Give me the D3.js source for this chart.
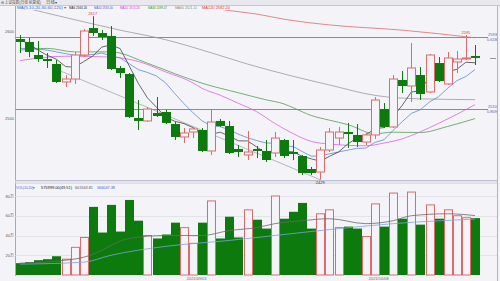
<!DOCTYPE html>
<html lang="zh">
<head>
<meta charset="utf-8">
<script src="https://cdn.jsdelivr.net/npm/d3@7"></script>
<style>
  body { margin: 0; background: #f4f4f8; }
  svg { display: block; font-family: "Liberation Sans", "Noto Sans CJK SC", sans-serif; }
</style>
</head>
<body>
<div id="chart"></div>
<script>
// daily candles, oldest first (price points)
var opens  = [2590.8,2587.4,2572.4,2567.8,2562.1,2541.4,2544.8,2572.4,2603.4,2597.7,2594.3,2557.5,2550.6,2500.0,2496.6,2505.7,2506.9,2493.1,2478.2,2483.9,2486.2,2462.1,2496.6,2490.8,2464.4,2457.5,2464.4,2462.1,2459.8,2474.7,2460.9,2456.3,2441.4,2437.9,2463.2,2477.0,2483.9,2480.5,2472.4,2480.5,2510.3,2489.7,2543.7,2536.8,2549.4,2529.9,2563.2,2539.1,2564.4,2567.8,2571.3];
var highs  = [2595.4,2592.0,2588.5,2574.7,2566.7,2549.4,2575.9,2602.3,2617.0,2601.1,2605.7,2559.8,2551.7,2520.7,2512.6,2524.1,2509.2,2495.4,2488.5,2489.7,2488.5,2509.2,2498.9,2496.6,2469.0,2485.1,2467.8,2474.7,2483.9,2475.9,2474.7,2457.5,2443.7,2466.7,2488.5,2489.7,2494.3,2493.1,2482.8,2524.1,2517.2,2549.4,2554.0,2586.2,2558.6,2573.6,2570.1,2575.9,2577.0,2595.4,2583.9];
var lows   = [2574.7,2570.0,2564.4,2557.5,2540.2,2535.6,2539.0,2570.0,2594.3,2589.7,2555.2,2546.0,2500.0,2486.2,2495.4,2501.1,2493.1,2474.7,2471.3,2477.0,2460.9,2457.5,2489.7,2458.6,2455.2,2451.7,2454.0,2449.4,2455.2,2454.0,2451.7,2434.5,2434.5,2429.0,2460.9,2469.0,2465.5,2466.7,2469.0,2475.9,2488.5,2488.5,2528.7,2518.4,2520.7,2528.7,2541.4,2537.9,2551.7,2566.7,2560.9];
var closes = [2587.4,2575.9,2567.8,2565.5,2541.4,2544.8,2572.4,2600.0,2597.7,2593.1,2556.3,2551.7,2501.1,2496.6,2510.3,2502.3,2494.3,2478.2,2482.8,2487.4,2462.1,2495.4,2490.8,2459.8,2460.9,2460.9,2462.1,2451.7,2477.0,2456.3,2458.6,2436.8,2436.8,2463.2,2483.9,2483.9,2481.6,2472.4,2480.5,2520.7,2489.7,2544.8,2536.8,2557.5,2527.6,2572.4,2542.5,2569.0,2567.8,2569.0,2569.0];
// volume, 万手
var volumes = [12,13,15,16,19,16,28,38,69,43,71,44,76,55,40,37,41,53,48,32,53,75,37,59,38,66,56,47,80,57,64,73,47,62,66,48,49,47,39,72,49,83,57,84,51,71,57,66,60,58,57.6];

// moving averages
var ma5 = [2590,2585,2578,2572,2567.6,2559.1,2558.4,2564.8,2571.3,2581.6,2583.9,2579.8,2560,2539.8,2523.2,2512.4,2500.9,2496.3,2493.6,2489,2481,2481.2,2483.7,2479.1,2473.8,2473.6,2466.9,2459.1,2462.5,2461.6,2461.1,2456.1,2453.1,2450.3,2455.9,2460.9,2469.9,2477,2480.5,2487.8,2489,2501.6,2514.5,2529.9,2531.3,2547.8,2547.4,2553.8,2555.9,2564.1,2563.5];
var ma10 = [2580,2580,2579,2578,2576,2574,2572,2572,2573,2574.6,2571.5,2569.1,2562.4,2555.6,2552.4,2548.2,2540.4,2528.2,2516.7,2506.1,2496.7,2491.1,2490,2486.4,2481.4,2477.3,2474.1,2471.4,2470.8,2467.7,2467.4,2461.5,2456.1,2456.4,2458.8,2461,2463,2465.1,2465.4,2471.9,2475,2485.8,2495.8,2505.2,2509.6,2518.4,2524.5,2534.2,2542.9,2547.7,2555.7];
var ma20 = [[0,2566],[5,2571],[10,2570],[13,2565],[16,2553],[19,2540.4],[20,2534.1],[22,2526.2],[24,2516.9],[26,2507.3],[28,2493.8],[30,2482.1],[32,2473.1],[34,2470.1],[36,2468.6],[38,2468.1],[40,2471.2],[42,2476],[44,2484.2],[46,2493.8],[48,2504.2],[50,2515.3]];
var ma30 = [[0,2578],[3,2580],[6,2576],[10,2576],[14,2563],[17,2551],[20,2540],[24,2529],[27,2521],[29,2516.2],[30,2511.9],[32,2502.9],[34,2497.5],[36,2492.5],[39,2481.9],[41,2483.7],[44,2483.3],[47,2490.3],[50,2499.3]];
var ma60 = [[0,2628],[6,2613],[11,2601],[16,2590],[21,2575],[25,2562],[30,2548],[34,2538],[39,2526],[44,2522],[50,2521.1]];
var ma120 = [[18,2632],[23,2623.5],[26,2619.5],[29,2613.6],[34,2607],[42,2601],[50,2592.2]];
var volMaA = [[0,12],[5,15],[7,18],[9,25],[10,30],[12,37],[16,40],[20,40],[23,45],[26,48],[28,52],[31,55],[34,57],[38,52],[41,55],[43,60],[47,62],[50,60.2]];
var volMaB = [[0,11],[7,13],[10,20],[16,29],[23,35],[28,40],[34,46],[41,52],[50,56.6]];

var maNames  = ["MA5","MA10","MA20","MA30","MA60","MA120"];
var maValues = ["2563.26","2555.40","2515.26","2499.47","2521.11","2592.20"];
var volNames = ["575999.00(49.51)","601563.81","566047.38"];

var priceTicks = [2600, 2500];
var volTicks = [20, 40, 60, 80];
var levelPrices = [2593, 2510];
var levelRatios = ["0.618", "0.809"];
var trendFrom = [4, 2556];
var trendTo = [33, 2429];
var dateIdx = [18, 38];
var dateLabels = ["2021/09/01", "2021/10/08"];

var width = 500, height = 281;
var left = 15.5, right = 488;
var mainTop = 10, mainBottom = 180;
var volTop = 190, volBottom = 275;

var up = "#e06a6a", down = "#0c7a0c", bg = "#f4f4f8";
var maColors = ["#444444","#5f86d8","#e060e0","#4f9f4f","#9a9a9a","#e06a6a"];
var legendColors = ["#222222","#3a62d0","#d838d8","#2e962e","#888888","#e03434"];

var svg = d3.select("#chart").append("svg")
    .attr("width", width).attr("height", height);

// squeeze a text into a given width, like the tiny terminal font
function fitText(sel, w) {
    sel.attr("textLength", w).attr("lengthAdjust", "spacingAndGlyphs");
    return sel;
}

// scales
var x = d3.scaleLinear().domain([0, closes.length - 1]).range([20, 475]);
var y = d3.scaleLinear().domain([2500, 2600]).range([118, 31]);
var yv = d3.scaleLinear().domain([0, 80]).range([volBottom, 196]);

// top strip
svg.append("rect").attr("x", 0).attr("y", 0).attr("width", width).attr("height", 5)
    .attr("fill", "#e8e8ee");
svg.append("line").attr("x1", 0).attr("x2", width).attr("y1", 5.5).attr("y2", 5.5)
    .attr("stroke", "#c8c8d4");
fitText(svg.append("text").attr("x", 1).attr("y", 4).attr("font-size", 4).attr("fill", "#555")
    .text("⊟ 上证指数(日线 前复权)"), 40);
fitText(svg.append("text").attr("x", 46).attr("y", 4).attr("font-size", 4).attr("fill", "#555")
    .text("日线▾"), 11);

// frame
svg.append("line").attr("x1", left).attr("x2", left).attr("y1", 6).attr("y2", volBottom + 1)
    .attr("stroke", "#a8a8bc");
svg.append("line").attr("x1", 497.5).attr("x2", 497.5).attr("y1", 6).attr("y2", height)
    .attr("stroke", "#b4b4c4");
svg.append("rect").attr("x", left).attr("y", mainBottom).attr("width", 497 - left).attr("height", 3)
    .attr("fill", "#e4e4ec");
svg.append("line").attr("x1", left).attr("x2", 497).attr("y1", mainBottom + 0.5).attr("y2", mainBottom + 0.5)
    .attr("stroke", "#c0c0d0");
svg.append("line").attr("x1", left).attr("x2", 497).attr("y1", mainBottom + 3.5).attr("y2", mainBottom + 3.5)
    .attr("stroke", "#c8c8d6").attr("stroke-dasharray", "1,1");

// MA legend
var lg = svg.append("g").attr("font-size", 4.4);
fitText(lg.append("text").attr("x", 17).attr("y", 8.8).attr("fill", "#3a62d0")
    .text("MA(5,10,20,30,60,120) ▾"), 49);
var legendX = [69, 94, 120, 148, 175, 202];
var legendW = [18, 19, 20, 19, 22, 28];
maNames.forEach(function(n, i) {
    fitText(lg.append("text").attr("x", legendX[i]).attr("y", 8.8).attr("fill", legendColors[i])
        .text(n + " " + maValues[i]), legendW[i]);
});

// price axis labels
svg.selectAll(".ptick").data(priceTicks).enter().append("text")
    .attr("class", "ptick").attr("x", 14).attr("y", function(d) { return y(d) + 1.5; })
    .attr("text-anchor", "end").attr("font-size", 4).attr("fill", "#555")
    .text(function(d) { return d; });

// horizontal level lines
svg.selectAll(".level").data(levelPrices).enter().append("line")
    .attr("x1", left).attr("x2", right)
    .attr("y1", function(d) { return Math.round(y(d)) + 0.5; })
    .attr("y2", function(d) { return Math.round(y(d)) + 0.5; })
    .attr("stroke", "#8585c6").attr("stroke-width", 1);
levelPrices.forEach(function(p, i) {
    svg.append("text").attr("x", 497).attr("y", y(p) - 1).attr("text-anchor", "end")
        .attr("font-size", 4).attr("fill", "#5a5aa8").text(Math.round(p));
    svg.append("text").attr("x", 497).attr("y", y(p) + 3.5).attr("text-anchor", "end")
        .attr("font-size", 4).attr("fill", "#5a5aa8").text(levelRatios[i]);
});

// clip for main chart
svg.append("clipPath").attr("id", "main-area").append("rect")
    .attr("x", left).attr("y", mainTop).attr("width", right - left).attr("height", mainBottom - mainTop);

var plot = svg.append("g").attr("clip-path", "url(#main-area)");

// trend line
plot.append("line")
    .attr("x1", x(trendFrom[0])).attr("y1", y(trendFrom[1]))
    .attr("x2", x(trendTo[0])).attr("y2", y(trendTo[1]))
    .attr("stroke", "#9a9aa6").attr("stroke-width", 0.7);

// moving average lines
var lineIdx = d3.line().x(function(d, i) { return x(i); }).y(function(d) { return y(d); });
var lineKnot = d3.line().x(function(d) { return x(d[0]); }).y(function(d) { return y(d[1]); })
    .curve(d3.curveMonotoneX);
var maData = [ma120, ma60, ma30, ma20];
var maCol  = [maColors[5], maColors[4], maColors[3], maColors[2]];
maData.forEach(function(m, i) {
    plot.append("path").datum(m).attr("d", lineKnot)
        .attr("fill", "none").attr("stroke", maCol[i]).attr("stroke-width", 0.8);
});
plot.append("path").datum(ma10).attr("d", lineIdx)
    .attr("fill", "none").attr("stroke", maColors[1]).attr("stroke-width", 0.8);
plot.append("path").datum(ma5).attr("d", lineIdx)
    .attr("fill", "none").attr("stroke", maColors[0]).attr("stroke-width", 0.8);

// candles
var candles = closes.map(function(c, i) {
    return { i: i, o: opens[i], h: highs[i], l: lows[i], c: c, v: volumes[i] };
});
var cg = plot.selectAll(".candle").data(candles).enter().append("g").attr("class", "candle");
cg.append("line")
    .attr("x1", function(d) { return Math.round(x(d.i)) + 0.5; })
    .attr("x2", function(d) { return Math.round(x(d.i)) + 0.5; })
    .attr("y1", function(d) { return y(d.h); })
    .attr("y2", function(d) { return y(d.l); })
    .attr("stroke", function(d) { return d.c >= d.o ? up : down; });
cg.append("rect")
    .attr("x", function(d) { return d.c >= d.o ? Math.round(x(d.i)) - 3.5 : Math.round(x(d.i)) - 4; })
    .attr("width", function(d) { return d.c >= d.o ? 8 : 9; })
    .attr("y", function(d) { return y(Math.max(d.o, d.c)); })
    .attr("height", function(d) { return Math.max(1, Math.abs(y(d.o) - y(d.c))); })
    .attr("fill", function(d) { return d.c >= d.o ? bg : down; })
    .attr("stroke", function(d) { return d.c >= d.o ? up : "none"; });

// high / low markers
var hiIdx = d3.maxIndex(highs), loIdx = d3.minIndex(lows);
svg.append("text").attr("x", x(hiIdx)).attr("y", y(highs[hiIdx]) - 1.5).attr("text-anchor", "middle")
    .attr("font-size", 4).attr("fill", "#e03434").text(Math.round(highs[hiIdx]));
svg.append("text").attr("x", x(loIdx)).attr("y", y(lows[loIdx]) + 4).attr("text-anchor", "middle")
    .attr("font-size", 4).attr("fill", "#333").text(Math.round(lows[loIdx]));
var recentHi = 49;
svg.append("text").attr("x", x(recentHi)).attr("y", y(highs[recentHi]) - 1.5).attr("text-anchor", "middle")
    .attr("font-size", 4).attr("fill", "#e03434").text(Math.round(highs[recentHi]));

// last price tick on right
var lastY = Math.round(y(closes[closes.length - 1])) + 0.5;
svg.append("line").attr("x1", 490).attr("x2", 496).attr("y1", lastY).attr("y2", lastY)
    .attr("stroke", "#999");

// volume panel
fitText(svg.append("text").attr("x", 16).attr("y", 188.8).attr("font-size", 4.4).attr("fill", "#3a62d0")
    .text("VOL(10,20)▾"), 19);
var volLegendX = [41, 75, 97];
var volLegendW = [31, 18, 18];
var volLegendCol = ["#222", "#555", "#3a62d0"];
volNames.forEach(function(t, i) {
    fitText(svg.append("text").attr("x", volLegendX[i]).attr("y", 188.8).attr("font-size", 4.4)
        .attr("fill", volLegendCol[i]).text(t), volLegendW[i]);
});

svg.selectAll(".vgrid").data(volTicks).enter().append("line")
    .attr("x1", left).attr("x2", 497)
    .attr("y1", function(d) { return Math.round(yv(d)) + 0.5; })
    .attr("y2", function(d) { return Math.round(yv(d)) + 0.5; })
    .attr("stroke", "#e2e2ea");
svg.selectAll(".vtick").data(volTicks).enter().append("text")
    .attr("x", 14).attr("y", function(d) { return yv(d) + 1.5; })
    .attr("text-anchor", "end").attr("font-size", 4).attr("fill", "#555")
    .text(function(d) { return d + "万"; });

svg.selectAll(".vbar").data(candles).enter().append("rect").attr("class", "vbar")
    .attr("x", function(d) { return d.c >= d.o ? Math.round(x(d.i)) - 3.5 : Math.round(x(d.i)) - 4; })
    .attr("width", function(d) { return d.c >= d.o ? 8 : 9; })
    .attr("y", function(d) { return yv(d.v); })
    .attr("height", function(d) { return yv(0) - yv(d.v); })
    .attr("fill", function(d) { return d.c >= d.o ? bg : down; })
    .attr("stroke", function(d) { return d.c >= d.o ? up : "none"; });

var volLine = d3.line().x(function(d) { return x(d[0]); }).y(function(d) { return yv(d[1]); })
    .curve(d3.curveMonotoneX);
svg.append("path").datum(volMaB).attr("d", volLine)
    .attr("fill", "none").attr("stroke", "#7ea2e2").attr("stroke-width", 0.8);
svg.append("path").datum(volMaA).attr("d", volLine)
    .attr("fill", "none").attr("stroke", "#6a6a6a").attr("stroke-width", 0.8);

// dates
dateIdx.forEach(function(di, k) {
    fitText(svg.append("text").attr("x", x(di) + 3).attr("y", 280).attr("font-size", 4)
        .attr("fill", "#666").text(dateLabels[k]), 20);
});
</script>
</body>
</html>
